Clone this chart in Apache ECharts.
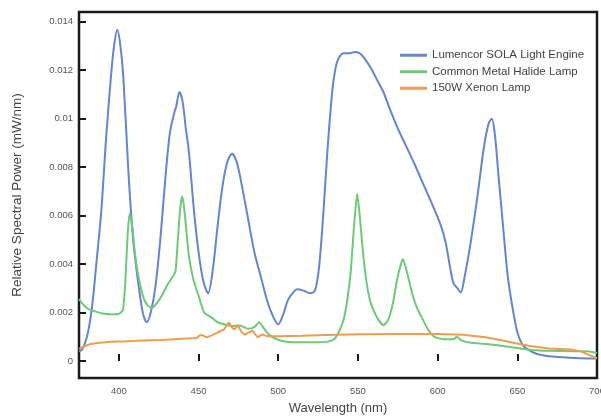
<!DOCTYPE html>
<html>
<head>
<meta charset="utf-8">
<script src="https://cdn.jsdelivr.net/npm/echarts@6/dist/echarts.min.js"></script>
<style>
  html, body { margin: 0; padding: 0; background: #fff; }
  #chart { width: 601px; height: 420px; }
</style>
</head>
<body>
<div id="chart"></div>
<script>
// Spectra (wavelength in nm, power in mW/nm)
const solaWl = [375, 377, 380, 383, 386, 389, 392, 395, 397, 399, 401, 403, 406, 409, 412, 415, 417.5, 420, 423, 426, 429, 432, 435, 436, 438, 440, 442, 444, 447, 450, 453, 456, 459, 462, 465, 468, 471, 474, 477, 481, 485, 489, 493, 497, 500, 503, 506, 509, 512, 516, 520, 523, 525.5, 528, 531, 534, 536, 538, 541, 545, 548, 551, 554, 558, 562, 566, 570, 575, 580, 585, 591, 597, 602, 605, 608, 610, 612.5, 614.5, 617, 621, 625, 629, 632, 634, 636, 638, 641, 644, 647, 650, 653, 656, 662, 670, 683, 700];
const solaPow = [0.0004, 0.00048, 0.001, 0.00214, 0.0041, 0.0062, 0.0092, 0.0117, 0.013, 0.01366, 0.013, 0.0115, 0.0078, 0.005, 0.0033, 0.002, 0.0016, 0.002, 0.0031, 0.005, 0.0074, 0.0094, 0.0103, 0.0105, 0.0111, 0.0107, 0.0096, 0.0086, 0.0063, 0.0045, 0.0033, 0.0028, 0.0038, 0.0056, 0.0072, 0.0082, 0.00855, 0.0082, 0.0073, 0.0059, 0.0045, 0.0035, 0.0025, 0.0018, 0.00152, 0.0019, 0.0025, 0.0028, 0.00296, 0.0029, 0.0028, 0.0029, 0.0038, 0.0058, 0.0088, 0.0112, 0.0121, 0.0125, 0.0127, 0.0127, 0.01275, 0.0127, 0.0125, 0.0121, 0.0116, 0.0111, 0.0104, 0.0096, 0.0089, 0.0082, 0.0073, 0.0064, 0.0056, 0.0049, 0.0038, 0.0032, 0.003, 0.00283, 0.0035, 0.005, 0.0068, 0.0088, 0.0098, 0.01, 0.0093, 0.0078, 0.0056, 0.0035, 0.0022, 0.0012, 0.0007, 0.0005, 0.0003, 0.0002, 0.00014, 0.0001];

const halideWl = [375, 378, 381, 385, 390, 395, 400, 402.5, 404, 405.5, 406.8, 408.5, 410, 412, 415, 418, 421, 424, 427, 430, 433, 435.5, 437, 438.5, 439.8, 441, 442.5, 444, 447, 450, 453.5, 458, 462, 467, 471, 476, 481, 485, 488, 491, 494, 499, 505, 515, 525, 531, 535, 538, 541, 543.5, 545.5, 547.5, 549.5, 551, 553, 555.5, 558, 562, 566, 569, 572, 575, 578.3, 581, 584, 587, 590, 594, 598, 604, 610, 612, 615, 620, 630, 641, 656, 670, 685, 694, 700];
const halidePow = [0.00255, 0.0023, 0.00214, 0.00205, 0.00196, 0.00193, 0.00195, 0.0021, 0.0032, 0.0052, 0.0061, 0.0055, 0.0045, 0.0036, 0.0027, 0.0023, 0.0022, 0.0024, 0.0027, 0.0031, 0.0034, 0.0037, 0.005, 0.0063, 0.0068, 0.0063, 0.0053, 0.0043, 0.0033, 0.0027, 0.002, 0.0018, 0.0016, 0.0015, 0.00145, 0.00147, 0.00133, 0.0014, 0.0016, 0.00135, 0.0011, 0.0009, 0.0008, 0.00077, 0.00077, 0.0008, 0.0009, 0.0012, 0.0017, 0.0026, 0.0037, 0.0055, 0.0069, 0.0061, 0.0046, 0.0032, 0.0024, 0.0018, 0.00148, 0.0017, 0.0024, 0.0035, 0.0042, 0.0036, 0.0028, 0.0022, 0.0018, 0.0013, 0.001, 0.0009, 0.0009, 0.001, 0.00085, 0.00076, 0.0007, 0.00062, 0.00048, 0.00042, 0.0004, 0.0004, 0.00033];

const xenonWl = [375, 378, 382, 388, 395, 405, 415, 426, 440, 449, 451, 453, 455, 458, 462, 466, 469, 471, 472.5, 474.5, 477, 479, 482, 484, 487, 490, 493, 500, 515, 530, 550, 575, 600, 616, 630, 641, 650, 658, 670, 683, 690, 695, 700];
const xenonPow = [0.0005, 0.0006, 0.0007, 0.00075, 0.0008, 0.00082, 0.00085, 0.00087, 0.00092, 0.00095, 0.00108, 0.00105, 0.00098, 0.00105, 0.00118, 0.0013, 0.0016, 0.00138, 0.0013, 0.00148, 0.0012, 0.00108, 0.0012, 0.00125, 0.00098, 0.0011, 0.00102, 0.00102, 0.00104, 0.00107, 0.0011, 0.00112, 0.00112, 0.00108, 0.00098, 0.00085, 0.00072, 0.00062, 0.00052, 0.00048, 0.0004, 0.00025, 0.00012];

const seriesNames = ['Lumencor SOLA Light Engine', 'Common Metal Halide Lamp', '150W Xenon Lamp'];
const xTicks = [400, 450, 500, 550, 600, 650, 700];
const yTicks = [0, 0.002, 0.004, 0.006, 0.008, 0.01, 0.012, 0.014];

const zip = (xs, ys) => xs.map((x, i) => [x, ys[i]]);

const chart = echarts.init(document.getElementById('chart'));
const fontFamily = 'Liberation Sans, Arial, sans-serif';
const labelFont = { color: '#555', fontSize: 9.5, fontFamily };

chart.setOption({
    animation: false,
    backgroundColor: '#fff',
    grid: { left: 79, right: 4, top: 12, bottom: 42, outerBoundsMode: 'none', containLabel: false,
            show: true, borderColor: '#1a1a1a', borderWidth: 2.5 },
    legend: {
        orient: 'vertical',
        left: 400,
        top: 49,
        padding: 0,
        itemGap: 4,
        itemWidth: 27,
        itemHeight: 3,
        icon: 'rect',
        textStyle: { color: '#444', fontSize: 11.5, fontFamily, lineHeight: 12.5 }
    },
    xAxis: {
        type: 'value', min: 375, max: 700,
        name: 'Wavelength (nm)', nameLocation: 'middle', nameGap: 24,
        nameTextStyle: { color: '#444', fontSize: 13, fontFamily },
        axisLine: { show: false },
        splitLine: { show: false },
        axisTick: { inside: true, length: 7, lineStyle: { color: '#1a1a1a', width: 2 }, customValues: xTicks },
        axisLabel: Object.assign({ margin: 8, customValues: xTicks }, labelFont)
    },
    yAxis: {
        type: 'value', min: -0.0007, max: 0.0144,
        name: 'Relative Spectral Power (mW/nm)', nameLocation: 'middle', nameGap: 55,
        nameTextStyle: { color: '#444', fontSize: 13.5, fontFamily },
        axisLine: { show: false },
        splitLine: { show: false },
        axisTick: { inside: true, length: 7, lineStyle: { color: '#1a1a1a', width: 2 }, customValues: yTicks },
        axisLabel: Object.assign({ margin: 6, customValues: yTicks }, labelFont)
    },
    series: [
        { name: seriesNames[0], type: 'line', data: zip(solaWl, solaPow), showSymbol: false, smooth: 0.3,
          lineStyle: { color: '#6585cf', width: 2 }, itemStyle: { color: '#6585cf' } },
        { name: seriesNames[1], type: 'line', data: zip(halideWl, halidePow), showSymbol: false, smooth: 0.2,
          lineStyle: { color: '#6dca78', width: 2 }, itemStyle: { color: '#6dca78' } },
        { name: seriesNames[2], type: 'line', data: zip(xenonWl, xenonPow), showSymbol: false,
          lineStyle: { color: '#ef9d4f', width: 2 }, itemStyle: { color: '#ef9d4f' } }
    ]
});
</script>
</body>
</html>
